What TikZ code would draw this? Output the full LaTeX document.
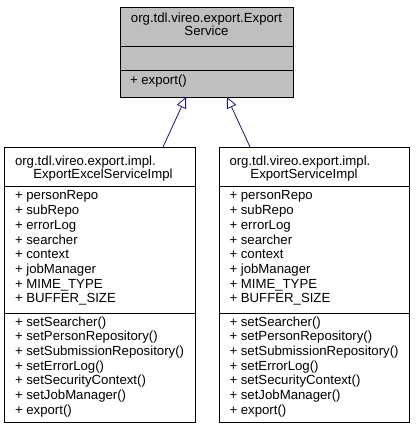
\documentclass[tikz,border=0pt]{standalone}
\usepackage{fontspec}
\setmainfont{Liberation Sans}
\usetikzlibrary{arrows.meta}
\definecolor{edgeblue}{HTML}{191970}
\definecolor{boxgray}{HTML}{BFBFBF}
\tikzset{
  box/.style={draw=black, line width=0.8pt, inner sep=0pt, outer sep=0pt, anchor=north west},
  txt/.style={inner sep=0pt, outer sep=0pt, anchor=base west, font=\fontsize{13.2}{15}\selectfont},
  ctxt/.style={inner sep=0pt, outer sep=0pt, anchor=base, font=\fontsize{13.2}{15}\selectfont},
  sep/.style={draw=black, line width=0.8pt},
  inherit/.style={draw=edgeblue, line width=0.8pt, -{Triangle[open, length=11pt, width=10pt]}}
}
\begin{document}
\begin{tikzpicture}[x=1pt,y=-1pt]
\useasboundingbox (0,0) rectangle (415,435);
% top box
\node[box, fill=boxgray, minimum width=173pt, minimum height=90pt] (top) at (120,7) {};
\draw[sep] ([yshift=-39.7pt]top.north west) -- ([yshift=-39.7pt]top.north east);
\draw[sep] ([yshift=-63.7pt]top.north west) -- ([yshift=-63.7pt]top.north east);
\node[ctxt] (topt1) at (206.5,23) {org.tdl.vireo.export.Export};
\node[ctxt] (topt2) at (206.5,36) {Service};
\node[txt] (topm1) at (130,85) {+ export()};
% left box
\node[box, fill=white, minimum width=191pt, minimum height=275pt] (left) at (4,147) {};
\draw[sep] ([yshift=-39.7pt]left.north west) -- ([yshift=-39.7pt]left.north east);
\draw[sep] ([yshift=-166pt]left.north west) -- ([yshift=-166pt]left.north east);
\node[txt] (lt1) at (15,165.5) {org.tdl.vireo.export.impl.};
\node[ctxt] (lt2) at (103,178.5) {ExportExcelServiceImpl};
% right box
\node[box, fill=white, minimum width=190pt, minimum height=275pt] (right) at (219,147) {};
\draw[sep] ([yshift=-39.7pt]right.north west) -- ([yshift=-39.7pt]right.north east);
\draw[sep] ([yshift=-166pt]right.north west) -- ([yshift=-166pt]right.north east);
\node[txt] (rt1) at (229.5,165.5) {org.tdl.vireo.export.impl.};
\node[ctxt] (rt2) at (304,178.5) {ExportServiceImpl};
% members
\foreach \i/\m in {0/personRepo,1/subRepo,2/errorLog,3/searcher,4/context,5/jobManager,6/MIME\_TYPE,7/BUFFER\_SIZE}{
  \node[txt] (la\i) at (15,200+14.67*\i) {+ \m};
  \node[txt] (ra\i) at (229.5,200+14.67*\i) {+ \m};
}
\foreach \i/\m in {0/setSearcher(),1/setPersonRepository(),2/setSubmissionRepository(),3/setErrorLog(),4/setSecurityContext(),5/setJobManager(),6/export()}{
  \node[txt] (lm\i) at (15,326.3+14.67*\i) {+ \m};
  \node[txt] (rm\i) at (229.5,326.3+14.67*\i) {+ \m};
}
% inheritance
\draw[inherit] ([xshift=63.5pt]left.north) -- ([xshift=-20.5pt]top.south);
\draw[inherit] ([xshift=-64pt]right.north) -- ([xshift=20.5pt]top.south);
\end{tikzpicture}
\end{document}
